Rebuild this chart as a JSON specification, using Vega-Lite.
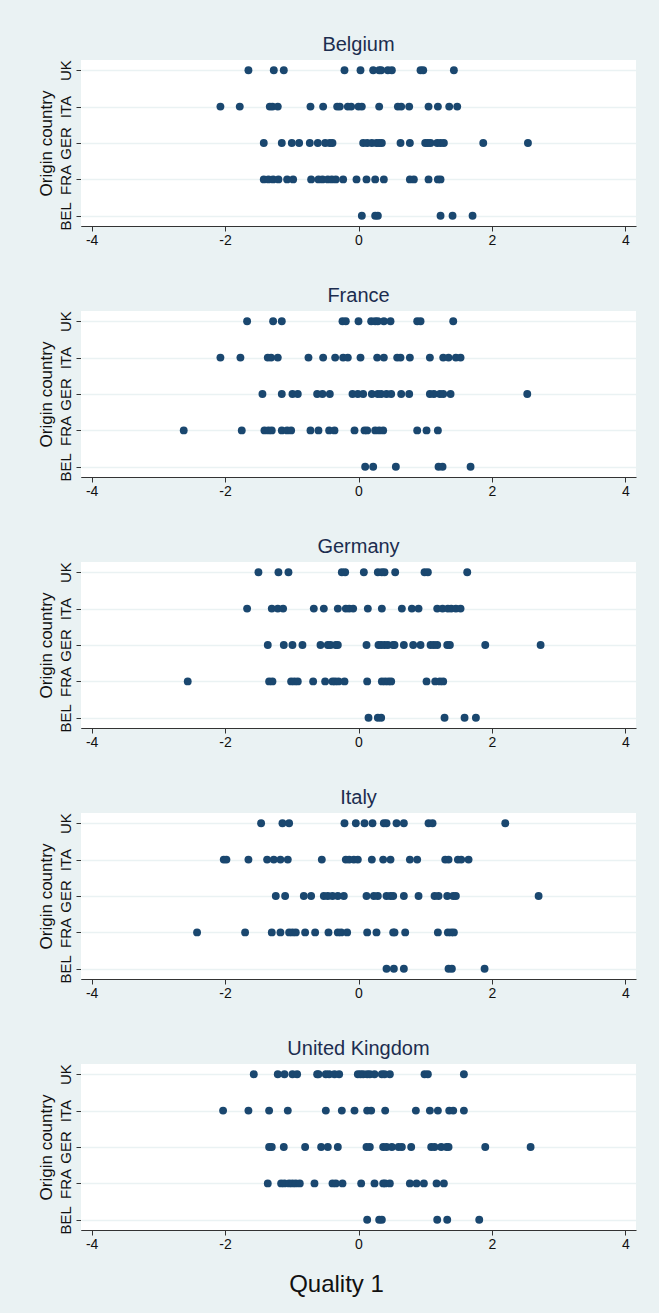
{
"$schema": "https://vega.github.io/schema/vega-lite/v6.json",
"background": "#EAF2F3",
"padding": {"left": 37, "top": 35, "right": 24, "bottom": 16},
"data": {"values": [
{"panel":"Belgium","origin":"UK","quality":-1.65},{"panel":"Belgium","origin":"UK","quality":-1.27},{"panel":"Belgium","origin":"UK","quality":-1.12},{"panel":"Belgium","origin":"UK","quality":-0.21},{"panel":"Belgium","origin":"UK","quality":0.03},{"panel":"Belgium","origin":"UK","quality":0.22},{"panel":"Belgium","origin":"UK","quality":0.31},{"panel":"Belgium","origin":"UK","quality":0.34},{"panel":"Belgium","origin":"UK","quality":0.44},{"panel":"Belgium","origin":"UK","quality":0.5},{"panel":"Belgium","origin":"UK","quality":0.93},{"panel":"Belgium","origin":"UK","quality":0.97},{"panel":"Belgium","origin":"UK","quality":1.43},
{"panel":"Belgium","origin":"ITA","quality":-2.07},{"panel":"Belgium","origin":"ITA","quality":-1.78},{"panel":"Belgium","origin":"ITA","quality":-1.33},{"panel":"Belgium","origin":"ITA","quality":-1.29},{"panel":"Belgium","origin":"ITA","quality":-1.21},{"panel":"Belgium","origin":"ITA","quality":-0.72},{"panel":"Belgium","origin":"ITA","quality":-0.53},{"panel":"Belgium","origin":"ITA","quality":-0.32},{"panel":"Belgium","origin":"ITA","quality":-0.28},{"panel":"Belgium","origin":"ITA","quality":-0.16},{"panel":"Belgium","origin":"ITA","quality":-0.11},{"panel":"Belgium","origin":"ITA","quality":0.0},{"panel":"Belgium","origin":"ITA","quality":0.05},{"panel":"Belgium","origin":"ITA","quality":0.31},{"panel":"Belgium","origin":"ITA","quality":0.59},{"panel":"Belgium","origin":"ITA","quality":0.64},{"panel":"Belgium","origin":"ITA","quality":0.76},{"panel":"Belgium","origin":"ITA","quality":1.05},{"panel":"Belgium","origin":"ITA","quality":1.19},{"panel":"Belgium","origin":"ITA","quality":1.36},{"panel":"Belgium","origin":"ITA","quality":1.48},
{"panel":"Belgium","origin":"GER","quality":-1.42},{"panel":"Belgium","origin":"GER","quality":-1.15},{"panel":"Belgium","origin":"GER","quality":-1.0},{"panel":"Belgium","origin":"GER","quality":-0.89},{"panel":"Belgium","origin":"GER","quality":-0.73},{"panel":"Belgium","origin":"GER","quality":-0.61},{"panel":"Belgium","origin":"GER","quality":-0.5},{"panel":"Belgium","origin":"GER","quality":-0.43},{"panel":"Belgium","origin":"GER","quality":-0.39},{"panel":"Belgium","origin":"GER","quality":0.07},{"panel":"Belgium","origin":"GER","quality":0.13},{"panel":"Belgium","origin":"GER","quality":0.2},{"panel":"Belgium","origin":"GER","quality":0.27},{"panel":"Belgium","origin":"GER","quality":0.31},{"panel":"Belgium","origin":"GER","quality":0.35},{"panel":"Belgium","origin":"GER","quality":0.63},{"panel":"Belgium","origin":"GER","quality":0.77},{"panel":"Belgium","origin":"GER","quality":1.0},{"panel":"Belgium","origin":"GER","quality":1.04},{"panel":"Belgium","origin":"GER","quality":1.08},{"panel":"Belgium","origin":"GER","quality":1.18},{"panel":"Belgium","origin":"GER","quality":1.23},{"panel":"Belgium","origin":"GER","quality":1.28},{"panel":"Belgium","origin":"GER","quality":1.87},{"panel":"Belgium","origin":"GER","quality":2.54},
{"panel":"Belgium","origin":"FRA","quality":-1.42},{"panel":"Belgium","origin":"FRA","quality":-1.35},{"panel":"Belgium","origin":"FRA","quality":-1.28},{"panel":"Belgium","origin":"FRA","quality":-1.2},{"panel":"Belgium","origin":"FRA","quality":-1.07},{"panel":"Belgium","origin":"FRA","quality":-0.98},{"panel":"Belgium","origin":"FRA","quality":-0.71},{"panel":"Belgium","origin":"FRA","quality":-0.6},{"panel":"Belgium","origin":"FRA","quality":-0.54},{"panel":"Belgium","origin":"FRA","quality":-0.46},{"panel":"Belgium","origin":"FRA","quality":-0.4},{"panel":"Belgium","origin":"FRA","quality":-0.34},{"panel":"Belgium","origin":"FRA","quality":-0.23},{"panel":"Belgium","origin":"FRA","quality":-0.03},{"panel":"Belgium","origin":"FRA","quality":0.12},{"panel":"Belgium","origin":"FRA","quality":0.25},{"panel":"Belgium","origin":"FRA","quality":0.38},{"panel":"Belgium","origin":"FRA","quality":0.77},{"panel":"Belgium","origin":"FRA","quality":0.83},{"panel":"Belgium","origin":"FRA","quality":1.05},{"panel":"Belgium","origin":"FRA","quality":1.19},{"panel":"Belgium","origin":"FRA","quality":1.23},
{"panel":"Belgium","origin":"BEL","quality":0.05},{"panel":"Belgium","origin":"BEL","quality":0.25},{"panel":"Belgium","origin":"BEL","quality":0.29},{"panel":"Belgium","origin":"BEL","quality":1.23},{"panel":"Belgium","origin":"BEL","quality":1.41},{"panel":"Belgium","origin":"BEL","quality":1.71},
{"panel":"France","origin":"UK","quality":-1.67},{"panel":"France","origin":"UK","quality":-1.28},{"panel":"France","origin":"UK","quality":-1.15},{"panel":"France","origin":"UK","quality":-0.24},{"panel":"France","origin":"UK","quality":-0.19},{"panel":"France","origin":"UK","quality":0.0},{"panel":"France","origin":"UK","quality":0.19},{"panel":"France","origin":"UK","quality":0.25},{"panel":"France","origin":"UK","quality":0.29},{"panel":"France","origin":"UK","quality":0.38},{"panel":"France","origin":"UK","quality":0.48},{"panel":"France","origin":"UK","quality":0.88},{"panel":"France","origin":"UK","quality":0.93},{"panel":"France","origin":"UK","quality":1.42},
{"panel":"France","origin":"ITA","quality":-2.07},{"panel":"France","origin":"ITA","quality":-1.77},{"panel":"France","origin":"ITA","quality":-1.36},{"panel":"France","origin":"ITA","quality":-1.31},{"panel":"France","origin":"ITA","quality":-1.21},{"panel":"France","origin":"ITA","quality":-0.75},{"panel":"France","origin":"ITA","quality":-0.53},{"panel":"France","origin":"ITA","quality":-0.35},{"panel":"France","origin":"ITA","quality":-0.23},{"panel":"France","origin":"ITA","quality":-0.16},{"panel":"France","origin":"ITA","quality":0.03},{"panel":"France","origin":"ITA","quality":0.28},{"panel":"France","origin":"ITA","quality":0.38},{"panel":"France","origin":"ITA","quality":0.58},{"panel":"France","origin":"ITA","quality":0.63},{"panel":"France","origin":"ITA","quality":0.77},{"panel":"France","origin":"ITA","quality":1.07},{"panel":"France","origin":"ITA","quality":1.27},{"panel":"France","origin":"ITA","quality":1.35},{"panel":"France","origin":"ITA","quality":1.46},{"panel":"France","origin":"ITA","quality":1.53},
{"panel":"France","origin":"GER","quality":-1.44},{"panel":"France","origin":"GER","quality":-1.15},{"panel":"France","origin":"GER","quality":-0.99},{"panel":"France","origin":"GER","quality":-0.91},{"panel":"France","origin":"GER","quality":-0.62},{"panel":"France","origin":"GER","quality":-0.54},{"panel":"France","origin":"GER","quality":-0.43},{"panel":"France","origin":"GER","quality":-0.09},{"panel":"France","origin":"GER","quality":-0.01},{"panel":"France","origin":"GER","quality":0.07},{"panel":"France","origin":"GER","quality":0.2},{"panel":"France","origin":"GER","quality":0.29},{"panel":"France","origin":"GER","quality":0.34},{"panel":"France","origin":"GER","quality":0.42},{"panel":"France","origin":"GER","quality":0.49},{"panel":"France","origin":"GER","quality":0.64},{"panel":"France","origin":"GER","quality":0.76},{"panel":"France","origin":"GER","quality":1.07},{"panel":"France","origin":"GER","quality":1.13},{"panel":"France","origin":"GER","quality":1.22},{"panel":"France","origin":"GER","quality":1.27},{"panel":"France","origin":"GER","quality":1.38},{"panel":"France","origin":"GER","quality":2.53},
{"panel":"France","origin":"FRA","quality":-2.62},{"panel":"France","origin":"FRA","quality":-1.75},{"panel":"France","origin":"FRA","quality":-1.41},{"panel":"France","origin":"FRA","quality":-1.35},{"panel":"France","origin":"FRA","quality":-1.3},{"panel":"France","origin":"FRA","quality":-1.15},{"panel":"France","origin":"FRA","quality":-1.07},{"panel":"France","origin":"FRA","quality":-1.01},{"panel":"France","origin":"FRA","quality":-0.72},{"panel":"France","origin":"FRA","quality":-0.6},{"panel":"France","origin":"FRA","quality":-0.44},{"panel":"France","origin":"FRA","quality":-0.36},{"panel":"France","origin":"FRA","quality":-0.06},{"panel":"France","origin":"FRA","quality":0.09},{"panel":"France","origin":"FRA","quality":0.13},{"panel":"France","origin":"FRA","quality":0.25},{"panel":"France","origin":"FRA","quality":0.31},{"panel":"France","origin":"FRA","quality":0.37},{"panel":"France","origin":"FRA","quality":0.88},{"panel":"France","origin":"FRA","quality":1.02},{"panel":"France","origin":"FRA","quality":1.19},
{"panel":"France","origin":"BEL","quality":0.1},{"panel":"France","origin":"BEL","quality":0.22},{"panel":"France","origin":"BEL","quality":0.56},{"panel":"France","origin":"BEL","quality":1.2},{"panel":"France","origin":"BEL","quality":1.26},{"panel":"France","origin":"BEL","quality":1.68},
{"panel":"Germany","origin":"UK","quality":-1.5},{"panel":"Germany","origin":"UK","quality":-1.2},{"panel":"Germany","origin":"UK","quality":-1.05},{"panel":"Germany","origin":"UK","quality":-0.25},{"panel":"Germany","origin":"UK","quality":-0.2},{"panel":"Germany","origin":"UK","quality":0.08},{"panel":"Germany","origin":"UK","quality":0.29},{"panel":"Germany","origin":"UK","quality":0.35},{"panel":"Germany","origin":"UK","quality":0.39},{"panel":"Germany","origin":"UK","quality":0.55},{"panel":"Germany","origin":"UK","quality":0.99},{"panel":"Germany","origin":"UK","quality":1.04},{"panel":"Germany","origin":"UK","quality":1.63},
{"panel":"Germany","origin":"ITA","quality":-1.67},{"panel":"Germany","origin":"ITA","quality":-1.3},{"panel":"Germany","origin":"ITA","quality":-1.21},{"panel":"Germany","origin":"ITA","quality":-1.13},{"panel":"Germany","origin":"ITA","quality":-0.67},{"panel":"Germany","origin":"ITA","quality":-0.52},{"panel":"Germany","origin":"ITA","quality":-0.31},{"panel":"Germany","origin":"ITA","quality":-0.19},{"panel":"Germany","origin":"ITA","quality":-0.14},{"panel":"Germany","origin":"ITA","quality":-0.08},{"panel":"Germany","origin":"ITA","quality":0.14},{"panel":"Germany","origin":"ITA","quality":0.35},{"panel":"Germany","origin":"ITA","quality":0.65},{"panel":"Germany","origin":"ITA","quality":0.8},{"panel":"Germany","origin":"ITA","quality":0.9},{"panel":"Germany","origin":"ITA","quality":1.18},{"panel":"Germany","origin":"ITA","quality":1.26},{"panel":"Germany","origin":"ITA","quality":1.34},{"panel":"Germany","origin":"ITA","quality":1.39},{"panel":"Germany","origin":"ITA","quality":1.46},{"panel":"Germany","origin":"ITA","quality":1.53},
{"panel":"Germany","origin":"GER","quality":-1.36},{"panel":"Germany","origin":"GER","quality":-1.12},{"panel":"Germany","origin":"GER","quality":-0.99},{"panel":"Germany","origin":"GER","quality":-0.84},{"panel":"Germany","origin":"GER","quality":-0.57},{"panel":"Germany","origin":"GER","quality":-0.46},{"panel":"Germany","origin":"GER","quality":-0.42},{"panel":"Germany","origin":"GER","quality":-0.34},{"panel":"Germany","origin":"GER","quality":-0.31},{"panel":"Germany","origin":"GER","quality":0.12},{"panel":"Germany","origin":"GER","quality":0.3},{"panel":"Germany","origin":"GER","quality":0.34},{"panel":"Germany","origin":"GER","quality":0.39},{"panel":"Germany","origin":"GER","quality":0.44},{"panel":"Germany","origin":"GER","quality":0.52},{"panel":"Germany","origin":"GER","quality":0.54},{"panel":"Germany","origin":"GER","quality":0.68},{"panel":"Germany","origin":"GER","quality":0.82},{"panel":"Germany","origin":"GER","quality":0.93},{"panel":"Germany","origin":"GER","quality":1.08},{"panel":"Germany","origin":"GER","quality":1.13},{"panel":"Germany","origin":"GER","quality":1.18},{"panel":"Germany","origin":"GER","quality":1.33},{"panel":"Germany","origin":"GER","quality":1.37},{"panel":"Germany","origin":"GER","quality":1.9},{"panel":"Germany","origin":"GER","quality":2.73},
{"panel":"Germany","origin":"FRA","quality":-2.56},{"panel":"Germany","origin":"FRA","quality":-1.34},{"panel":"Germany","origin":"FRA","quality":-1.29},{"panel":"Germany","origin":"FRA","quality":-1.01},{"panel":"Germany","origin":"FRA","quality":-0.96},{"panel":"Germany","origin":"FRA","quality":-0.91},{"panel":"Germany","origin":"FRA","quality":-0.68},{"panel":"Germany","origin":"FRA","quality":-0.5},{"panel":"Germany","origin":"FRA","quality":-0.39},{"panel":"Germany","origin":"FRA","quality":-0.35},{"panel":"Germany","origin":"FRA","quality":-0.3},{"panel":"Germany","origin":"FRA","quality":-0.21},{"panel":"Germany","origin":"FRA","quality":0.13},{"panel":"Germany","origin":"FRA","quality":0.35},{"panel":"Germany","origin":"FRA","quality":0.4},{"panel":"Germany","origin":"FRA","quality":0.45},{"panel":"Germany","origin":"FRA","quality":0.49},{"panel":"Germany","origin":"FRA","quality":1.02},{"panel":"Germany","origin":"FRA","quality":1.15},{"panel":"Germany","origin":"FRA","quality":1.22},{"panel":"Germany","origin":"FRA","quality":1.27},
{"panel":"Germany","origin":"BEL","quality":0.15},{"panel":"Germany","origin":"BEL","quality":0.29},{"panel":"Germany","origin":"BEL","quality":0.34},{"panel":"Germany","origin":"BEL","quality":1.29},{"panel":"Germany","origin":"BEL","quality":1.59},{"panel":"Germany","origin":"BEL","quality":1.76},
{"panel":"Italy","origin":"UK","quality":-1.46},{"panel":"Italy","origin":"UK","quality":-1.14},{"panel":"Italy","origin":"UK","quality":-1.04},{"panel":"Italy","origin":"UK","quality":-0.21},{"panel":"Italy","origin":"UK","quality":-0.04},{"panel":"Italy","origin":"UK","quality":0.09},{"panel":"Italy","origin":"UK","quality":0.21},{"panel":"Italy","origin":"UK","quality":0.38},{"panel":"Italy","origin":"UK","quality":0.42},{"panel":"Italy","origin":"UK","quality":0.57},{"panel":"Italy","origin":"UK","quality":0.68},{"panel":"Italy","origin":"UK","quality":1.05},{"panel":"Italy","origin":"UK","quality":1.11},{"panel":"Italy","origin":"UK","quality":2.2},
{"panel":"Italy","origin":"ITA","quality":-2.02},{"panel":"Italy","origin":"ITA","quality":-1.98},{"panel":"Italy","origin":"ITA","quality":-1.65},{"panel":"Italy","origin":"ITA","quality":-1.37},{"panel":"Italy","origin":"ITA","quality":-1.27},{"panel":"Italy","origin":"ITA","quality":-1.17},{"panel":"Italy","origin":"ITA","quality":-1.06},{"panel":"Italy","origin":"ITA","quality":-0.55},{"panel":"Italy","origin":"ITA","quality":-0.19},{"panel":"Italy","origin":"ITA","quality":-0.14},{"panel":"Italy","origin":"ITA","quality":-0.07},{"panel":"Italy","origin":"ITA","quality":-0.01},{"panel":"Italy","origin":"ITA","quality":0.2},{"panel":"Italy","origin":"ITA","quality":0.37},{"panel":"Italy","origin":"ITA","quality":0.48},{"panel":"Italy","origin":"ITA","quality":0.77},{"panel":"Italy","origin":"ITA","quality":0.88},{"panel":"Italy","origin":"ITA","quality":1.3},{"panel":"Italy","origin":"ITA","quality":1.35},{"panel":"Italy","origin":"ITA","quality":1.49},{"panel":"Italy","origin":"ITA","quality":1.54},{"panel":"Italy","origin":"ITA","quality":1.65},
{"panel":"Italy","origin":"GER","quality":-1.24},{"panel":"Italy","origin":"GER","quality":-1.1},{"panel":"Italy","origin":"GER","quality":-0.82},{"panel":"Italy","origin":"GER","quality":-0.71},{"panel":"Italy","origin":"GER","quality":-0.52},{"panel":"Italy","origin":"GER","quality":-0.46},{"panel":"Italy","origin":"GER","quality":-0.39},{"panel":"Italy","origin":"GER","quality":-0.31},{"panel":"Italy","origin":"GER","quality":-0.22},{"panel":"Italy","origin":"GER","quality":0.12},{"panel":"Italy","origin":"GER","quality":0.23},{"panel":"Italy","origin":"GER","quality":0.29},{"panel":"Italy","origin":"GER","quality":0.42},{"panel":"Italy","origin":"GER","quality":0.48},{"panel":"Italy","origin":"GER","quality":0.52},{"panel":"Italy","origin":"GER","quality":0.68},{"panel":"Italy","origin":"GER","quality":0.9},{"panel":"Italy","origin":"GER","quality":1.14},{"panel":"Italy","origin":"GER","quality":1.2},{"panel":"Italy","origin":"GER","quality":1.33},{"panel":"Italy","origin":"GER","quality":1.42},{"panel":"Italy","origin":"GER","quality":1.46},{"panel":"Italy","origin":"GER","quality":2.7},
{"panel":"Italy","origin":"FRA","quality":-2.42},{"panel":"Italy","origin":"FRA","quality":-1.7},{"panel":"Italy","origin":"FRA","quality":-1.3},{"panel":"Italy","origin":"FRA","quality":-1.17},{"panel":"Italy","origin":"FRA","quality":-1.04},{"panel":"Italy","origin":"FRA","quality":-0.99},{"panel":"Italy","origin":"FRA","quality":-0.94},{"panel":"Italy","origin":"FRA","quality":-0.8},{"panel":"Italy","origin":"FRA","quality":-0.65},{"panel":"Italy","origin":"FRA","quality":-0.45},{"panel":"Italy","origin":"FRA","quality":-0.31},{"panel":"Italy","origin":"FRA","quality":-0.26},{"panel":"Italy","origin":"FRA","quality":-0.17},{"panel":"Italy","origin":"FRA","quality":0.13},{"panel":"Italy","origin":"FRA","quality":0.27},{"panel":"Italy","origin":"FRA","quality":0.52},{"panel":"Italy","origin":"FRA","quality":0.54},{"panel":"Italy","origin":"FRA","quality":0.7},{"panel":"Italy","origin":"FRA","quality":1.19},{"panel":"Italy","origin":"FRA","quality":1.34},{"panel":"Italy","origin":"FRA","quality":1.39},{"panel":"Italy","origin":"FRA","quality":1.43},
{"panel":"Italy","origin":"BEL","quality":0.42},{"panel":"Italy","origin":"BEL","quality":0.53},{"panel":"Italy","origin":"BEL","quality":0.68},{"panel":"Italy","origin":"BEL","quality":1.35},{"panel":"Italy","origin":"BEL","quality":1.4},{"panel":"Italy","origin":"BEL","quality":1.89},
{"panel":"United Kingdom","origin":"UK","quality":-1.57},{"panel":"United Kingdom","origin":"UK","quality":-1.21},{"panel":"United Kingdom","origin":"UK","quality":-1.11},{"panel":"United Kingdom","origin":"UK","quality":-0.99},{"panel":"United Kingdom","origin":"UK","quality":-0.92},{"panel":"United Kingdom","origin":"UK","quality":-0.62},{"panel":"United Kingdom","origin":"UK","quality":-0.6},{"panel":"United Kingdom","origin":"UK","quality":-0.49},{"panel":"United Kingdom","origin":"UK","quality":-0.44},{"panel":"United Kingdom","origin":"UK","quality":-0.36},{"panel":"United Kingdom","origin":"UK","quality":-0.29},{"panel":"United Kingdom","origin":"UK","quality":-0.01},{"panel":"United Kingdom","origin":"UK","quality":0.03},{"panel":"United Kingdom","origin":"UK","quality":0.07},{"panel":"United Kingdom","origin":"UK","quality":0.13},{"panel":"United Kingdom","origin":"UK","quality":0.17},{"panel":"United Kingdom","origin":"UK","quality":0.24},{"panel":"United Kingdom","origin":"UK","quality":0.35},{"panel":"United Kingdom","origin":"UK","quality":0.39},{"panel":"United Kingdom","origin":"UK","quality":0.47},{"panel":"United Kingdom","origin":"UK","quality":0.99},{"panel":"United Kingdom","origin":"UK","quality":1.04},{"panel":"United Kingdom","origin":"UK","quality":1.58},
{"panel":"United Kingdom","origin":"ITA","quality":-2.03},{"panel":"United Kingdom","origin":"ITA","quality":-1.65},{"panel":"United Kingdom","origin":"ITA","quality":-1.34},{"panel":"United Kingdom","origin":"ITA","quality":-1.06},{"panel":"United Kingdom","origin":"ITA","quality":-0.49},{"panel":"United Kingdom","origin":"ITA","quality":-0.25},{"panel":"United Kingdom","origin":"ITA","quality":-0.06},{"panel":"United Kingdom","origin":"ITA","quality":0.13},{"panel":"United Kingdom","origin":"ITA","quality":0.19},{"panel":"United Kingdom","origin":"ITA","quality":0.4},{"panel":"United Kingdom","origin":"ITA","quality":0.86},{"panel":"United Kingdom","origin":"ITA","quality":1.07},{"panel":"United Kingdom","origin":"ITA","quality":1.19},{"panel":"United Kingdom","origin":"ITA","quality":1.36},{"panel":"United Kingdom","origin":"ITA","quality":1.42},{"panel":"United Kingdom","origin":"ITA","quality":1.58},
{"panel":"United Kingdom","origin":"GER","quality":-1.34},{"panel":"United Kingdom","origin":"GER","quality":-1.3},{"panel":"United Kingdom","origin":"GER","quality":-1.12},{"panel":"United Kingdom","origin":"GER","quality":-0.8},{"panel":"United Kingdom","origin":"GER","quality":-0.56},{"panel":"United Kingdom","origin":"GER","quality":-0.46},{"panel":"United Kingdom","origin":"GER","quality":-0.31},{"panel":"United Kingdom","origin":"GER","quality":0.12},{"panel":"United Kingdom","origin":"GER","quality":0.17},{"panel":"United Kingdom","origin":"GER","quality":0.37},{"panel":"United Kingdom","origin":"GER","quality":0.42},{"panel":"United Kingdom","origin":"GER","quality":0.5},{"panel":"United Kingdom","origin":"GER","quality":0.6},{"panel":"United Kingdom","origin":"GER","quality":0.65},{"panel":"United Kingdom","origin":"GER","quality":0.79},{"panel":"United Kingdom","origin":"GER","quality":1.09},{"panel":"United Kingdom","origin":"GER","quality":1.14},{"panel":"United Kingdom","origin":"GER","quality":1.24},{"panel":"United Kingdom","origin":"GER","quality":1.32},{"panel":"United Kingdom","origin":"GER","quality":1.35},{"panel":"United Kingdom","origin":"GER","quality":1.9},{"panel":"United Kingdom","origin":"GER","quality":2.58},
{"panel":"United Kingdom","origin":"FRA","quality":-1.36},{"panel":"United Kingdom","origin":"FRA","quality":-1.16},{"panel":"United Kingdom","origin":"FRA","quality":-1.11},{"panel":"United Kingdom","origin":"FRA","quality":-1.04},{"panel":"United Kingdom","origin":"FRA","quality":-0.99},{"panel":"United Kingdom","origin":"FRA","quality":-0.94},{"panel":"United Kingdom","origin":"FRA","quality":-0.88},{"panel":"United Kingdom","origin":"FRA","quality":-0.66},{"panel":"United Kingdom","origin":"FRA","quality":-0.39},{"panel":"United Kingdom","origin":"FRA","quality":-0.34},{"panel":"United Kingdom","origin":"FRA","quality":-0.24},{"panel":"United Kingdom","origin":"FRA","quality":0.04},{"panel":"United Kingdom","origin":"FRA","quality":0.24},{"panel":"United Kingdom","origin":"FRA","quality":0.37},{"panel":"United Kingdom","origin":"FRA","quality":0.4},{"panel":"United Kingdom","origin":"FRA","quality":0.47},{"panel":"United Kingdom","origin":"FRA","quality":0.77},{"panel":"United Kingdom","origin":"FRA","quality":0.87},{"panel":"United Kingdom","origin":"FRA","quality":0.98},{"panel":"United Kingdom","origin":"FRA","quality":1.17},{"panel":"United Kingdom","origin":"FRA","quality":1.28},
{"panel":"United Kingdom","origin":"BEL","quality":0.13},{"panel":"United Kingdom","origin":"BEL","quality":0.31},{"panel":"United Kingdom","origin":"BEL","quality":0.35},{"panel":"United Kingdom","origin":"BEL","quality":1.18},{"panel":"United Kingdom","origin":"BEL","quality":1.33},{"panel":"United Kingdom","origin":"BEL","quality":1.81}
]},
"facet": {"field": "panel", "type": "nominal", "sort": ["Belgium","France","Germany","Italy","United Kingdom"],
  "header": {"title": null, "labelFontSize": 20, "labelFont": "Liberation Sans", "labelColor": "#1c2d4f", "labelPadding": 5}},
"columns": 1,
"spacing": 39,
"resolve": {"axis": {"x": "independent"}},
"spec": {
  "width": 555,
  "height": 166,
  "mark": {"type": "circle", "size": 62, "opacity": 1, "color": "#1a476f"},
  "encoding": {
    "x": {"field": "quality", "type": "quantitative", "scale": {"domain": [-4.16, 4.16], "nice": false, "zero": false},
      "axis": {"values": [-4,-2,0,2,4], "title": null, "grid": false, "labelPadding": 2, "labelFontSize": 14,
        "labelExpr": "datum.value < 0 ? '-' + abs(datum.value) : '' + datum.value"}},
    "y": {"field": "origin", "type": "nominal", "sort": ["UK","ITA","GER","FRA","BEL"], "scale": {"type": "point", "padding": 0.28},
      "axis": {"title": "Origin country", "labelAngle": -90, "grid": true, "labelPadding": 3, "titlePadding": 3, "labelFontSize": 15, "titleFontSize": 17}}
  }
},
"title": {"text": "Quality 1", "orient": "bottom", "anchor": "middle", "fontSize": 24, "fontWeight": "normal", "color": "#111111", "font": "Liberation Sans", "offset": 22},
"config": {
  "font": "Liberation Sans",
  "view": {"fill": "white", "stroke": null},
  "axis": {"domainColor": "#333333", "tickColor": "#333333", "labelColor": "#111111", "titleColor": "#111111", "labelFontSize": 13, "titleFontSize": 14, "titleFontWeight": "normal", "tickSize": 5, "domainWidth": 1, "gridColor": "#EAF2F3", "gridWidth": 1.5}
}
}
